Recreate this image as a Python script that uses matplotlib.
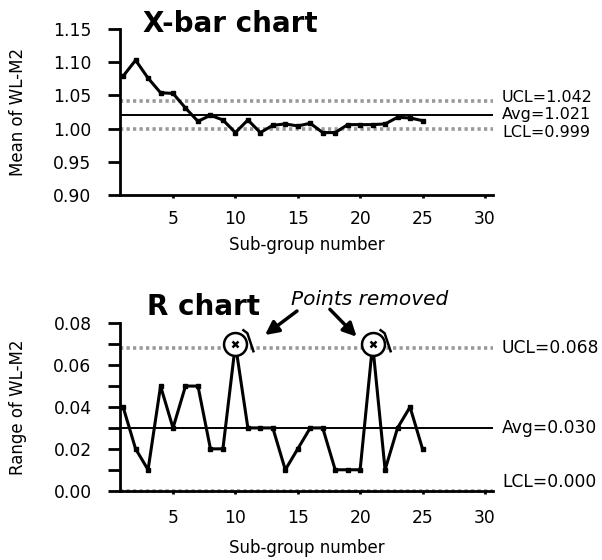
import numpy as np
import matplotlib
matplotlib.use("Agg")
import matplotlib.pyplot as plt
from matplotlib.lines import Line2D
from matplotlib.patches import FancyArrowPatch
from matplotlib.transforms import IdentityTransform, blended_transform_factory
from matplotlib.ticker import MultipleLocator, FormatStrFormatter

# ---------------- data ----------------
subgroups = list(range(1, 26))
xbar_means = [1.079, 1.103, 1.076, 1.054, 1.053, 1.031, 1.011, 1.020, 1.013, 0.994,
              1.013, 0.994, 1.005, 1.007, 1.004, 1.008, 0.994, 0.994, 1.006, 1.006,
              1.006, 1.007, 1.017, 1.016, 1.012]
xbar_limits = {"UCL": 1.042, "Avg": 1.021, "LCL": 0.999}
xbar_yticks = [0.90, 0.95, 1.00, 1.05, 1.10, 1.15]

ranges = [0.040, 0.020, 0.010, 0.050, 0.030, 0.050, 0.050, 0.020, 0.020, 0.070,
          0.030, 0.030, 0.030, 0.010, 0.020, 0.030, 0.030, 0.010, 0.010, 0.010,
          0.070, 0.010, 0.030, 0.040, 0.020]
r_limits = {"UCL": 0.068, "Avg": 0.030, "LCL": 0.000}
removed_points = [10, 21]
xticks = [5, 10, 15, 20, 25, 30]

# ---------------- figure ----------------
W, H = 602, 560
fig = plt.figure(figsize=(W / 100, H / 100), dpi=100)
fig.patch.set_facecolor("white")

ax1 = fig.add_axes([120 / W, 1 - 195 / H, 373 / W, 166 / H])
ax2 = fig.add_axes([120 / W, 1 - 490.7 / H, 373 / W, 167.4 / H])

FS = 12.3

def style_axes(ax):
    for s in ("top", "right"):
        ax.spines[s].set_visible(False)
    for s in ("left", "bottom"):
        ax.spines[s].set_linewidth(2.0)
        ax.spines[s].set_zorder(4)
    ax.tick_params(axis="y", which="both", direction="out", length=8.5, width=2,
                   pad=12, labelsize=FS)
    ax.tick_params(axis="x", which="both", direction="out", length=2.5, width=2,
                   labelsize=FS)
    ax.set_xlim(0.75, 30.65)
    ax.set_xticks(xticks)
    ax.set_xlabel("Sub-group number", fontsize=12)

def control_lines(ax, limits, fmt, offsets, fs):
    trans = blended_transform_factory(ax.transAxes, ax.transData)
    for key, val in limits.items():
        if key == "Avg":
            ax.axhline(val, color="black", lw=1.4, zorder=2)
        else:
            ax.axhline(val, color="0.6", lw=2.6, ls=(0, (0.9, 0.9)), zorder=1,
                       clip_on=False)
        va, dy = offsets.get(key, ("center", 0))
        ax.annotate(f"{key}={val:{fmt}}", xy=(1.024, val), xycoords=trans,
                    xytext=(0, dy), textcoords="offset points",
                    fontsize=fs, va=va, ha="left")

# ---------- X-bar chart ----------
style_axes(ax1)
ax1.set_ylim(0.90, 1.15)
ax1.set_yticks(xbar_yticks)
ax1.yaxis.set_major_formatter(FormatStrFormatter("%.2f"))
ax1.tick_params(axis="x", pad=8)
control_lines(ax1, xbar_limits, ".3f",
              {"UCL": ("center", 2), "Avg": ("center", 0), "LCL": ("center", -2)},
              11.5)
ax1.plot(subgroups, xbar_means, color="black", lw=2.2, marker="s", ms=3.5,
         zorder=3, clip_on=False)
ax1.set_ylabel("Mean of WL-M2", fontsize=12)
ax1.yaxis.set_label_coords(-0.25, 0.5)
ax1.xaxis.set_label_coords(0.5, -0.25)

# ---------- R chart ----------
style_axes(ax2)
ax2.set_ylim(0.0, 0.08)
ax2.yaxis.set_major_locator(MultipleLocator(0.02))
ax2.yaxis.set_minor_locator(MultipleLocator(0.01))
ax2.yaxis.set_major_formatter(FormatStrFormatter("%.2f"))
ax2.tick_params(axis="x", pad=11)
control_lines(ax2, r_limits, ".3f", {"LCL": ("bottom", 0)}, 12.3)
ax2.plot(subgroups, ranges, color="black", lw=2.2, marker="s", ms=3.5,
         zorder=2, clip_on=False)
ax2.set_ylabel("Range of WL-M2", fontsize=12)
ax2.yaxis.set_label_coords(-0.25, 0.5)
ax2.xaxis.set_label_coords(0.5, -0.29)

# removed points: circled
rx = list(removed_points)
ry = [ranges[p - 1] for p in removed_points]
ax2.plot(rx, ry, ls="none", marker="o", ms=16.5, mfc="white", mec="black",
         mew=1.8, zorder=3)
ax2.plot(rx, ry, ls="none", marker="x", ms=4, mec="black", mew=1.8, zorder=4)

fig.canvas.draw()
pts = [ax2.transData.transform((x, y)) for x, y in zip(rx, ry)]
# hand-drawn tails on circles
for (px, py) in pts:
    fig.add_artist(Line2D([px + 8, px + 12, px + 18], [py + 14, py + 11, py - 7],
                          transform=IdentityTransform(), color="black", lw=1.8))

# annotation text and arrows
fig.text(291 / W, 1 - 305 / H, "Points removed", style="italic", fontsize=14.5,
         va="baseline", ha="left")
arrow_offsets = [((61.6, 33.2), (29.6, 9.2)), ((-42.7, 34.9), (-16.0, 7.5))]
for (px, py), (tail, head) in zip(pts, arrow_offsets):
    fig.add_artist(FancyArrowPatch(
        (px + tail[0], py + tail[1]), (px + head[0], py + head[1]),
        transform=IdentityTransform(), arrowstyle="-|>", mutation_scale=20,
        lw=2.5, color="black", shrinkA=0, shrinkB=0))

# titles
fig.text(143 / W, 1 - 32 / H, "X-bar chart", fontsize=20, weight="bold",
         va="baseline", ha="left")
fig.text(147 / W, 1 - 315 / H, "R chart", fontsize=20, weight="bold",
         va="baseline", ha="left")

fig.savefig("out.png", dpi=100, facecolor="white")
